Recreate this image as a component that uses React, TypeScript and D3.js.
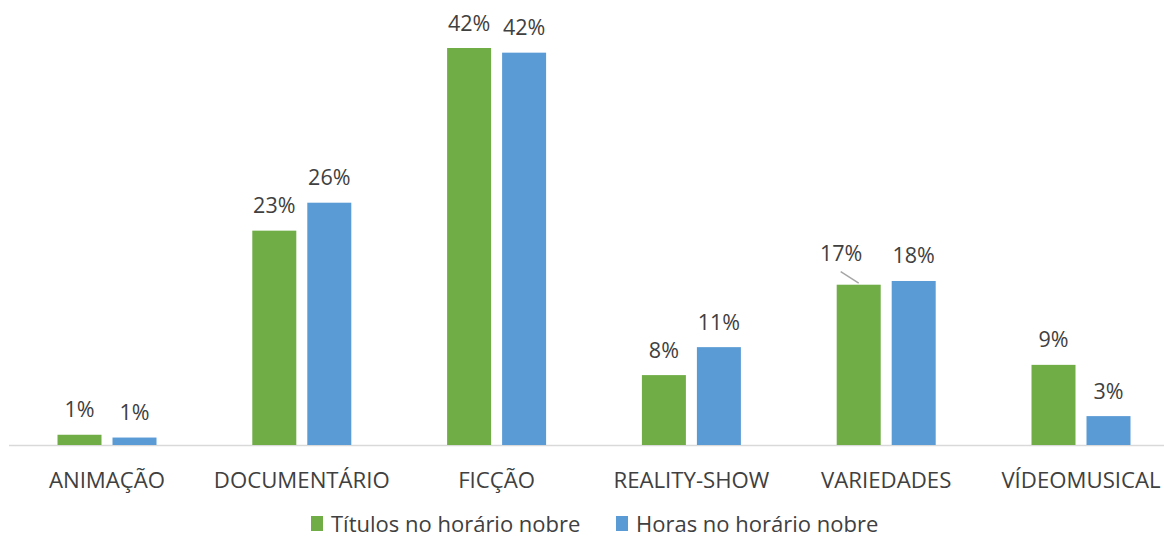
import React from "react";
import * as d3 from "d3";

const categories = ["ANIMAÇÃO", "DOCUMENTÁRIO", "FICÇÃO", "REALITY-SHOW", "VARIEDADES", "VÍDEOMUSICAL"];
const seriesNames = ["Títulos no horário nobre", "Horas no horário nobre"];
const titulos = [1.1, 23.0, 42.6, 7.5, 17.2, 8.6];
const horas = [0.8, 26.0, 42.1, 10.5, 17.6, 3.1];
const titulosLabels = ["1%", "23%", "42%", "8%", "17%", "9%"];
const horasLabels = ["1%", "26%", "42%", "11%", "18%", "3%"];
const colors = ["#70AD47", "#5B9BD5"];

const W = 1164;
const H = 545;
const FONT = "'Open Sans', 'Noto Sans', sans-serif";

export default function App() {
  const baseline = 445;
  const x = d3.scaleBand<string>().domain(categories).range([9.6, 1178.4]).paddingInner(0).paddingOuter(0);
  const y = d3.scaleLinear().domain([0, 42.6]).range([baseline, 48]);
  const barW = 44;
  const gap = 11;
  const series = [
    { name: seriesNames[0], values: titulos, labels: titulosLabels, color: colors[0] },
    { name: seriesNames[1], values: horas, labels: horasLabels, color: colors[1] },
  ];
  const groupW = barW * 2 + gap;

  return (
    <svg width={W} height={H} style={{ position: "absolute", left: 0, top: 0, background: "#fff" }} fontFamily={FONT}>
      <rect x={0} y={0} width={W} height={H} fill="#fff" />
      <line x1={9} x2={W} y1={baseline + 0.5} y2={baseline + 0.5} stroke="#D9D9D9" strokeWidth={1.5} />
      {categories.map((c, i) => {
        const cx = (x(c) as number) + x.bandwidth() / 2;
        const gx = cx - groupW / 2;
        return (
          <g key={c}>
            {series.map((s, si) => {
              const bx = gx + si * (barW + gap);
              const top = y(s.values[i]);
              const isOffset = si === 0 && c === "VARIEDADES";
              const lx = isOffset ? bx + barW / 2 - 17.5 : bx + barW / 2;
              const ly = isOffset ? top - 24 : top - 17.5;
              return (
                <g key={s.name}>
                  <rect x={bx} y={top} width={barW} height={baseline - top} fill={s.color} />
                  {isOffset && (
                    <line x1={bx + 4} y1={top - 13} x2={bx + 22} y2={top - 1.5} stroke="#A6A6A6" strokeWidth={1.5} />
                  )}
                  <text x={lx} y={ly} textAnchor="middle" fontSize={21.5} fill="#404040">
                    {s.labels[i]}
                  </text>
                </g>
              );
            })}
            <text x={cx} y={488} textAnchor="middle" fontSize={22.2} fill="#404040">
              {c}
            </text>
          </g>
        );
      })}
      <g>
        <rect x={311} y={516} width={12} height={15} fill={colors[0]} />
        <text x={331} y={532} fontSize={22} fill="#404040">{seriesNames[0]}</text>
        <rect x={616} y={516} width={12} height={15} fill={colors[1]} />
        <text x={636} y={532} fontSize={22} fill="#404040">{seriesNames[1]}</text>
      </g>
    </svg>
  );
}
